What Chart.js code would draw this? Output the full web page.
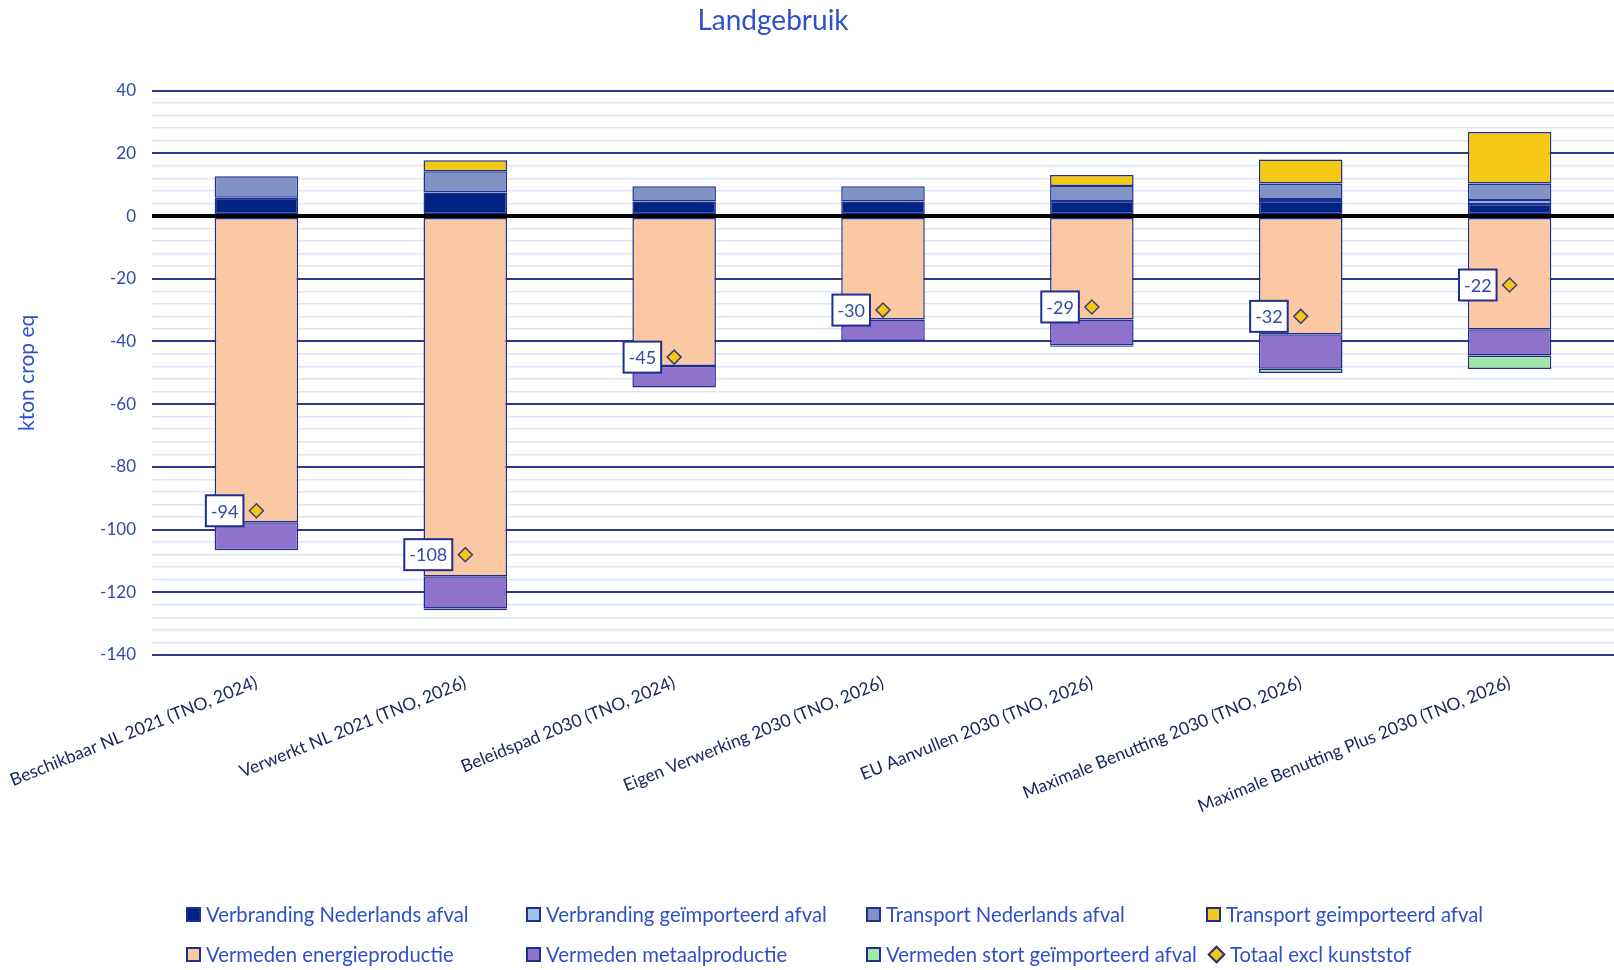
<!DOCTYPE html>
<html>
<head>
<meta charset="utf-8">
<script src="https://cdn.jsdelivr.net/npm/chart.js@4.4.1/dist/chart.umd.min.js"></script>
<style>
  html, body { margin: 0; padding: 0; background: #fff; }
  #wrap { position: relative; width: 1614px; height: 970px; }
  #legend {
    position: absolute; left: 186px; top: 902px;
    display: grid; grid-template-columns: 340px 340px 340px 340px;
    row-gap: 16px;
    font-family: Lato, "Open Sans", sans-serif; font-size: 20.3px; color: #2F50C6;
  }
  .item { display: flex; align-items: center; height: 24px; white-space: nowrap; }
  .box { width: 11px; height: 11px; border: 2px solid #1F2F8F; margin-right: 5px; }
  .dia { width: 9px; height: 9px; border: 2px solid #1F2F8F; transform: rotate(45deg); margin: 0 7px 0 4px; }
</style>
</head>
<body>
<div id="wrap">
  <canvas id="chart" width="1614" height="970"></canvas>
  <div id="legend"></div>
</div>
<script>
const categories = [
  'Beschikbaar NL 2021 (TNO, 2024)',
  'Verwerkt NL 2021 (TNO, 2026)',
  'Beleidspad 2030 (TNO, 2024)',
  'Eigen Verwerking 2030 (TNO, 2026)',
  'EU Aanvullen 2030 (TNO, 2026)',
  'Maximale Benutting 2030 (TNO, 2026)',
  'Maximale Benutting Plus 2030 (TNO, 2026)'
];

const verbrandingNL = [5.8, 7.5, 4.6, 4.6, 4.8, 4.8, 3.8];
const verbrandingImp = [null, null, null, null, null, 0.6, 1.3];
const transportNL = [6.9, 6.8, 4.9, 4.9, 4.8, 5.0, 5.3];
const transportImp = [null, 3.5, null, null, 3.5, 7.6, 16.4];
const energie = [-97.7, -114.9, -47.8, -33, -33, -37.7, -36.1];
const metaal = [-8.9, -10.3, -6.9, -6.8, -8.3, -11, -8.4];
const stort = [null, -0.5, null, null, -0.4, -1.4, -4.3];
const totaal = [-94, -108, -45, -30, -29, -32, -22];

const navyLine = '#1F2F8F';
const font = 'Lato, "Open Sans", sans-serif';

function bar(label, data, color) {
  return {
    type: 'bar', label, data,
    backgroundColor: color,
    borderColor: navyLine,
    borderWidth: 1.5,
    borderSkipped: false,
    barPercentage: 0.4,
    categoryPercentage: 1,
    stack: 's'
  };
}

// shift the title a bit left, like the original
const titleShift = {
  id: 'titleShift',
  afterLayout(chart) {
    chart.titleBlock.right -= 68;
  }
};

const valueBoxes = {
  id: 'valueBoxes',
  afterDatasetsDraw(chart) {
    const meta = chart.getDatasetMeta(7);
    const ctx = chart.ctx;
    ctx.save();
    ctx.font = '18px ' + font;
    meta.data.forEach((pt, i) => {
      const txt = String(totaal[i]);
      const w = ctx.measureText(txt).width + 10;
      const h = 31;
      const right = pt.x - 13;
      ctx.fillStyle = '#fff';
      ctx.fillRect(right - w, pt.y - h / 2, w, h);
      ctx.strokeStyle = navyLine;
      ctx.lineWidth = 2;
      ctx.strokeRect(right - w, pt.y - h / 2, w, h);
      ctx.fillStyle = '#2F4AA8';
      ctx.textAlign = 'center';
      ctx.textBaseline = 'middle';
      ctx.fillText(txt, right - w / 2, pt.y + 1);
    });
    ctx.restore();
  }
};

const chart = new Chart(document.getElementById('chart'), {
  data: {
    labels: categories,
    datasets: [
      bar('Verbranding Nederlands afval', verbrandingNL, '#002384'),
      bar('Verbranding geïmporteerd afval', verbrandingImp, '#9DC3E6'),
      bar('Transport Nederlands afval', transportNL, '#8193C4'),
      bar('Transport geimporteerd afval', transportImp, '#F5C913'),
      bar('Vermeden energieproductie', energie, '#FAC8A3'),
      bar('Vermeden metaalproductie', metaal, '#8E72CC'),
      bar('Vermeden stort geïmporteerd afval', stort, '#A0E6A4'),
      {
        type: 'line', label: 'Totaal excl kunststof', data: totaal,
        order: -1,
        showLine: false,
        pointStyle: 'rectRot', pointRadius: 7,
        pointBackgroundColor: '#F5C913', pointBorderColor: '#3A3F7A', pointBorderWidth: 1.5
      }
    ]
  },
  options: {
    responsive: false,
    animation: false,
    layout: { padding: 0, autoPadding: false },
    plugins: {
      legend: { display: false },
      tooltip: { enabled: false },
      title: {
        display: true, text: 'Landgebruik',
        color: '#2F50C6',
        font: { family: font, size: 28, weight: 'normal' },
        padding: { top: 4, bottom: 53 }
      }
    },
    scales: {
      x: {
        stacked: true,
        grid: { display: false, drawTicks: false },
        border: { display: false },
        ticks: {
          color: '#1A2660',
          font: { family: font, size: 17.5 },
          minRotation: 22, maxRotation: 22,
          padding: 17,
          autoSkip: false
        },
        afterFit(scale) {
          scale.height = 315;
          scale.paddingLeft = 0;
          scale.paddingRight = 0;
        }
      },
      y: {
        stacked: true,
        min: -140, max: 40,
        border: { display: false },
        grid: {
          drawTicks: false,
          color(c) {
            const v = c.tick.value;
            if (v === 0) return '#000';
            return v % 20 === 0 ? '#2B3A8C' : '#DDE6F7';
          },
          lineWidth(c) {
            const v = c.tick.value;
            if (v === 0) return 4;
            return v % 20 === 0 ? 2 : 1.5;
          }
        },
        ticks: {
          stepSize: 4,
          autoSkip: false,
          padding: 16,
          color: '#2F4AA8',
          font: { family: font, size: 17 },
          callback(v) { return v % 20 === 0 ? v : ''; }
        },
        title: {
          display: true, text: 'kton crop eq',
          color: '#2F50C6',
          font: { family: font, size: 21 },
          padding: { top: 15, bottom: 0 }
        },
        afterFit(scale) { scale.width = 152; }
      }
    }
  },
  plugins: [titleShift, valueBoxes]
});

const legend = document.getElementById('legend');
chart.data.datasets.forEach(ds => {
  const item = document.createElement('div');
  item.className = 'item';
  const mark = document.createElement('span');
  if (ds.type === 'line') {
    mark.className = 'dia';
    mark.style.background = ds.pointBackgroundColor;
  } else {
    mark.className = 'box';
    mark.style.background = ds.backgroundColor;
  }
  item.appendChild(mark);
  item.appendChild(document.createTextNode(ds.label));
  legend.appendChild(item);
});
</script>
</body>
</html>
